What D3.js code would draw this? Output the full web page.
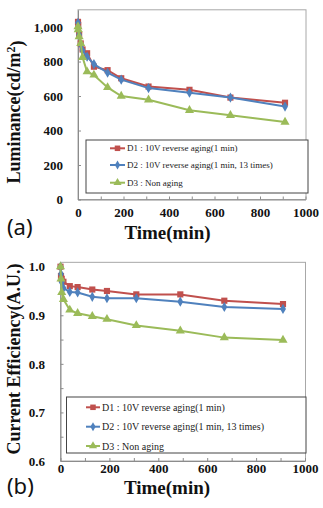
<!DOCTYPE html>
<html>
<head>
<meta charset="utf-8">
<script src="https://cdn.jsdelivr.net/npm/d3@7/dist/d3.min.js"></script>
<style>
	body { margin: 0; background: #fff; }
	svg { display: block; }
	.axis text { font-family: "Liberation Serif", serif; font-weight: bold; font-size: 13px; fill: #111; }
	.axis path, .axis line { stroke: #8c8c8c; }
	.title { font-family: "Liberation Serif", serif; font-weight: bold; fill: #111; }
	.tag { font-family: "Noto Sans", sans-serif; font-size: 22px; fill: #111; }
	.legend text { font-family: "Liberation Serif", serif; fill: #222; }
</style>
</head>
<body>
<svg width="323" height="508"></svg>
<script>
//---->DATA<-----//
const seriesNames = [
	'D1 : 10V reverse aging(1 min)',
	'D2 : 10V reverse aging(1 min, 13 times)',
	'D3 : Non aging'
];

// (a) luminance, cd/m2
const timesA = [0, 1, 5, 12, 20, 40, 70, 130, 190, 310, 490, 670, 910];
const lumD1 = [1030, 1012, 960, 905, 870, 848, 770, 750, 703, 655, 636, 591, 561];
const lumD2 = [1025, 1000, 955, 900, 865, 828, 785, 735, 695, 646, 619, 591, 539];
const lumD3 = [1002, 985, 944, 906, 824, 741, 722, 650, 600, 578, 517, 488, 449];

// (b) current efficiency, A.U.
const timesB = [0, 2, 5, 12, 38, 70, 130, 190, 310, 490, 670, 910];
const effD1 = [1.0, 0.981, 0.975, 0.969, 0.960, 0.958, 0.953, 0.950, 0.943, 0.943, 0.930, 0.923];
const effD2 = [1.0, 0.985, 0.968, 0.956, 0.948, 0.947, 0.938, 0.935, 0.935, 0.928, 0.917, 0.913];
const effD3 = [1.0, 0.975, 0.947, 0.933, 0.911, 0.904, 0.898, 0.892, 0.879, 0.868, 0.854, 0.849];

const colors = ['#C0504D', '#4F81BD', '#9BBB59'];
const symbols = [d3.symbolSquare, d3.symbolDiamond, d3.symbolTriangle];
const symSizes = [38, 30, 36];

const svg = d3.select('svg');

function drawChart(c) {
	const g = svg.append('g');

	const x = d3.scaleLinear().domain([0, 1000]).range(c.xRange);
	const y = d3.scaleLinear().domain(c.yDomain).range(c.yRange);

	// plot frame
	g.append('rect')
		.attr('x', c.xRange[0])
		.attr('y', y(c.yTop))
		.attr('width', c.frameRight - c.xRange[0])
		.attr('height', c.yRange[0] - y(c.yTop))
		.attr('fill', 'none')
		.attr('stroke', '#a8a8a8');

	g.append('g')
		.attr('class', 'axis')
		.attr('transform', `translate(0, ${c.yRange[0]})`)
		.call(d3.axisBottom(x)
			.tickValues(d3.range(0, 1001, 100))
			.tickFormat(d => d % 200 ? '' : d)
			.tickSizeInner(-3)
			.tickSizeOuter(0)
			.tickPadding(c.xPad)
		);

	g.append('g')
		.attr('class', 'axis')
		.attr('transform', `translate(${c.xRange[0]}, 0)`)
		.call(d3.axisLeft(y)
			.tickValues(c.yTicks)
			.tickFormat(c.yFormat)
			.tickSizeInner(-3)
			.tickSizeOuter(0)
			.tickPadding(c.yPad)
		);

	// legend
	const lg = g.append('g').attr('class', 'legend');
	lg.append('rect')
		.attr('x', c.legend.x)
		.attr('y', c.legend.y)
		.attr('width', c.legend.w)
		.attr('height', c.legend.h)
		.attr('fill', '#fff')
		.attr('stroke', '#444');

	seriesNames.forEach((name, i) => {
		const ry = c.legend.rows[i];
		lg.append('line')
			.attr('x1', c.legend.lx0)
			.attr('x2', c.legend.lx1)
			.attr('y1', ry)
			.attr('y2', ry)
			.attr('stroke', colors[i])
			.attr('stroke-width', 2);
		lg.append('path')
			.attr('d', d3.symbol(symbols[i], symSizes[i] * 0.8)())
			.attr('transform', `translate(${(c.legend.lx0 + c.legend.lx1) / 2}, ${ry})`)
			.attr('fill', colors[i]);
		lg.append('text')
			.attr('x', c.legend.tx)
			.attr('y', ry)
			.attr('dy', '0.35em')
			.style('font-size', c.legend.font + 'px')
			.text(name);
	});

	// series
	const line = d3.line()
		.x(d => x(d[0]))
		.y(d => y(d[1]));

	c.series.forEach((vals, i) => {
		const pts = c.times.map((t, j) => [t, vals[j]]);
		g.append('path')
			.datum(pts)
			.attr('d', line)
			.attr('fill', 'none')
			.attr('stroke', colors[i])
			.attr('stroke-width', 2);
		g.selectAll(null)
			.data(pts)
			.enter()
			.append('path')
			.attr('d', d3.symbol(symbols[i], symSizes[i])())
			.attr('transform', d => `translate(${x(d[0])}, ${y(d[1])})`)
			.attr('fill', colors[i]);
	});

	// titles
	g.append('text')
		.attr('class', 'title')
		.attr('x', c.xTitle[0])
		.attr('y', c.xTitle[1])
		.attr('text-anchor', 'middle')
		.style('font-size', '19px')
		.text('Time(min)');

	const yt = g.append('text')
		.attr('class', 'title')
		.attr('transform', `translate(${c.yTitle[0]}, ${c.yTitle[1]}) rotate(-90)`)
		.attr('text-anchor', 'middle')
		.style('font-size', '18px');
	c.yLabel(yt);

	g.append('text')
		.attr('class', 'tag')
		.attr('x', c.tag[0])
		.attr('y', c.tag[1])
		.text(c.tagText);
}

drawChart({
	times: timesA,
	series: [lumD1, lumD2, lumD3],
	xRange: [78, 305.5],
	yDomain: [0, 1100],
	yRange: [199.5, 9.8],
	yTop: 1100,
	frameRight: 306,
	yTicks: d3.range(0, 1001, 200),
	yFormat: d3.format(','),
	xPad: 8,
	yPad: 15,
	legend: { x: 86, y: 140, w: 222, h: 53, rows: [148.3, 165, 182.7], lx0: 110, lx1: 125, tx: 127, font: 9 },
	xTitle: [167.5, 239],
	yTitle: [20, 112],
	yLabel: t => {
		t.append('tspan').text('Luminance(cd/m');
		t.append('tspan').attr('dy', '-0.45em').style('font-size', '12px').text('2');
		t.append('tspan').attr('dy', '0.45em').text(')');
	},
	tag: [7, 235],
	tagText: '(a)'
});

drawChart({
	times: timesB,
	series: [effD1, effD2, effD3],
	xRange: [60.5, 305],
	yDomain: [0.6, 1.0],
	yRange: [461, 266.7],
	yTop: 1.009,
	frameRight: 305.5,
	yTicks: d3.range(0, 9).map(i => 0.6 + i * 0.05),
	yFormat: d => Math.round(d * 100) % 10 ? '' : d3.format('.1f')(d),
	xPad: 3,
	yPad: 15.5,
	legend: { x: 66.5, y: 397, w: 239.5, h: 56, rows: [407.3, 426.7, 446], lx0: 86, lx1: 100, tx: 102, font: 10 },
	xTitle: [167, 494],
	yTitle: [20, 359],
	yLabel: t => t.text('Current Efficiency(A.U.)'),
	tag: [7, 494],
	tagText: '(b)'
});
</script>
</body>
</html>
